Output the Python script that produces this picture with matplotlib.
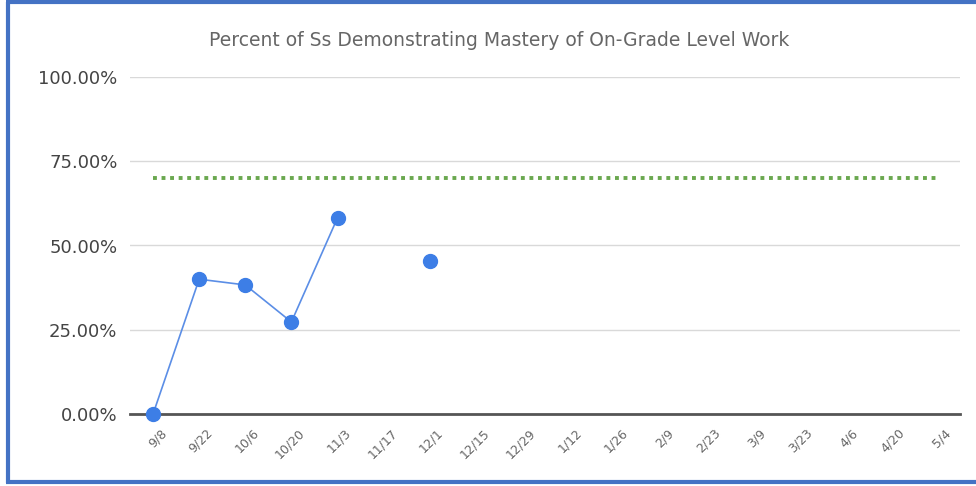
import numpy as np
import matplotlib.pyplot as plt
from matplotlib.lines import Line2D
from matplotlib.transforms import ScaledTranslation

dates = ["9/8", "9/22", "10/6", "10/20", "11/3", "11/17", "12/1", "12/15", "12/29",
         "1/12", "1/26", "2/9", "2/23", "3/9", "3/23", "4/6", "4/20", "5/4"]
mastery = [0.0, 0.40, 0.383, 0.273, 0.582, None, 0.454] + [None] * 11
goal = [0.70] * len(dates)
yticks = [0, 0.25, 0.5, 0.75, 1.0]

fig = plt.figure(figsize=(9.76, 4.86), dpi=100)
W, H = 976, 486
# axes box in pixels: left 130, right 960, top 77, bottom 414
ax = fig.add_axes([130 / W, 1 - 414 / H, 830 / W, 337 / H])

x = np.arange(len(dates))
y = np.array([np.nan if v is None else v for v in mastery])

ax.plot(x, goal, color="#6aa84f", lw=2.8, linestyle=(0, (1, 1.2)), zorder=2)
ax.plot(x, y, color="#5b8ee6", lw=1.2, zorder=3)
ax.plot(x, y, "o", color="#3d7ee6", ms=10, zorder=4, clip_on=False)

ax.set_xlim(-0.5, len(dates) - 0.5)
ax.set_ylim(0, 1)
ax.set_yticks(yticks)
ax.set_yticklabels([f"{v * 100:.2f}%" for v in yticks], fontsize=13, color="#444444")
ax.set_xticks(x)
ax.set_xticklabels(dates, rotation=45, fontsize=9, color="#666666", ha="right",
                   rotation_mode="anchor")
ax.tick_params(axis="both", length=0)
ax.tick_params(axis="y", pad=9)
ax.tick_params(axis="x", pad=9)
for lbl in ax.get_xticklabels():
    lbl.set_transform(lbl.get_transform() + ScaledTranslation(7 / 100, 0, fig.dpi_scale_trans))

ax.grid(axis="y", color="#d9d9d9", lw=1)
ax.set_axisbelow(True)
for s in ["top", "right", "left"]:
    ax.spines[s].set_visible(False)
ax.spines["bottom"].set_color("#555555")
ax.spines["bottom"].set_linewidth(2)

fig.text(499 / W, 1 - 40 / H, "Percent of Ss Demonstrating Mastery of On-Grade Level Work",
         ha="center", va="center", fontsize=13.5, color="#666666")

# blue screenshot frame (left, top, bottom)
frame = dict(color="#4472c4", lw=3, transform=fig.transFigure, solid_capstyle="butt")
fig.add_artist(Line2D([8 / W, 8 / W], [1 - 2 / H, 1 - 483 / H], **frame))
fig.add_artist(Line2D([6 / W, 1], [1 - 2 / H, 1 - 2 / H], **frame))
fig.add_artist(Line2D([6 / W, 1], [1 - 482 / H, 1 - 482 / H], **frame))

fig.savefig("out.png", dpi=100)
